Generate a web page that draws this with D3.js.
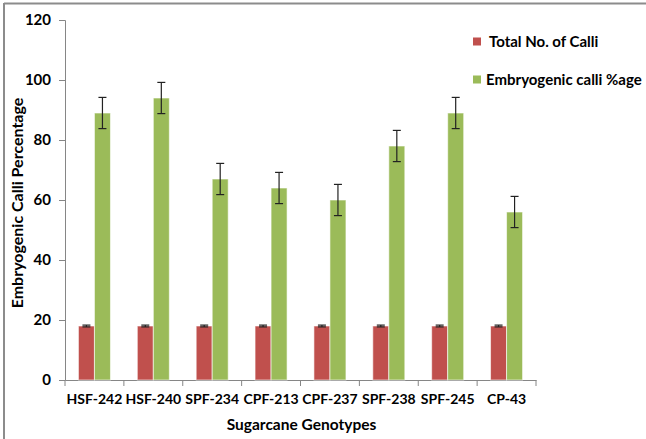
<!DOCTYPE html>
<html>
<head>
<meta charset="utf-8">
<script src="https://cdn.jsdelivr.net/npm/d3@7/dist/d3.min.js"></script>
<style>
  html, body { margin: 0; padding: 0; background: #fff; }
  svg { display: block; }
  text { font-family: Lato, "Open Sans", sans-serif; }
</style>
</head>
<body>
<svg id="chart" width="646" height="439"></svg>
<script>
const categories = ["HSF-242", "HSF-240", "SPF-234", "CPF-213", "CPF-237", "SPF-238", "SPF-245", "CP-43"];
const seriesNames = ["Total No. of Calli", "Embryogenic calli %age"];
const totalCalli = [18, 18, 18, 18, 18, 18, 18, 18];
const totalCalliErr = [0.3, 0.3, 0.3, 0.3, 0.3, 0.3, 0.3, 0.3];
const embryogenic = [89, 94, 67, 64, 60, 78, 89, 56];
const embryogenicErr = [5.2, 5.2, 5.2, 5.2, 5.2, 5.2, 5.2, 5.2];
const yTicks = [0, 20, 40, 60, 80, 100, 120];
const colors = ["#C0504D", "#9BBB59"];

const svg = d3.select("#chart");
const mLeft = 65, mRight = 536, mTop = 20, mBottom = 380;

// frame (top and left edges visible)
svg.append("line").attr("x1", 4).attr("x2", 646).attr("y1", 3.5).attr("y2", 3.5)
  .attr("stroke", "#8c8c8c").attr("stroke-width", 2);
svg.append("line").attr("x1", 4).attr("x2", 4).attr("y1", 3).attr("y2", 439)
  .attr("stroke", "#8c8c8c").attr("stroke-width", 2);

const x0 = d3.scaleBand().domain(categories).range([mLeft, mRight]).paddingInner(0).paddingOuter(0);
const bw = x0.bandwidth();
const x1 = d3.scaleBand().domain(seriesNames).range([bw * 0.228, bw * 0.772]).padding(0);
const y = d3.scaleLinear().domain([0, 120]).range([mBottom, mTop]);

// y axis
const yAxis = d3.axisLeft(y).tickValues(yTicks).tickSize(6).tickPadding(8).tickFormat(d3.format("d"));
const gy = svg.append("g").attr("transform", `translate(${mLeft},0)`).call(yAxis);
gy.select(".domain").attr("stroke", "#868686");
gy.selectAll(".tick line").attr("stroke", "#868686");
gy.selectAll(".tick text").attr("font-size", 15).attr("font-weight", "bold").attr("fill", "#000")
  .attr("font-family", "Lato, sans-serif");

// x axis
const xAxis = d3.axisBottom(x0).tickSize(0).tickPadding(14);
const gx = svg.append("g").attr("transform", `translate(0,${mBottom})`).call(xAxis);
gx.select(".domain").attr("stroke", "#868686");
gx.selectAll(".tick text").attr("font-size", 14).attr("font-weight", "bold").attr("fill", "#000")
  .attr("font-family", "Lato, sans-serif");
// category boundary ticks
const bounds = categories.map(c => x0(c)).concat([mRight]);
gx.selectAll(".bound").data(bounds).join("line").attr("class", "bound")
  .attr("x1", d => d).attr("x2", d => d).attr("y1", 0).attr("y2", 6).attr("stroke", "#868686");

// bars
const data = [totalCalli, embryogenic];
const errs = [totalCalliErr, embryogenicErr];
seriesNames.forEach((s, si) => {
  const g = svg.append("g");
  g.selectAll("rect").data(categories).join("rect")
    .attr("x", c => x0(c) + x1(s))
    .attr("y", (c, i) => y(data[si][i]))
    .attr("width", x1.bandwidth())
    .attr("height", (c, i) => y(0) - y(data[si][i]))
    .attr("fill", colors[si])
    .attr("stroke", "#ffffff").attr("stroke-opacity", 0.6).attr("stroke-width", 1);
});
// error bars
seriesNames.forEach((s, si) => {
  const g = svg.append("g").attr("stroke", "#222").attr("stroke-width", 1.2);
  categories.forEach((c, i) => {
    const cx = x0(c) + x1(s) + x1.bandwidth() / 2;
    const v = data[si][i], e = errs[si][i];
    const yt = y(v + e), yb = y(v - e);
    g.append("line").attr("x1", cx).attr("x2", cx).attr("y1", yt).attr("y2", yb);
    g.append("line").attr("x1", cx - 4).attr("x2", cx + 4).attr("y1", yt).attr("y2", yt);
    g.append("line").attr("x1", cx - 4).attr("x2", cx + 4).attr("y1", yb).attr("y2", yb);
  });
});

// axis titles
svg.append("text").attr("x", (mLeft + mRight) / 2 + 1).attr("y", 430).attr("text-anchor", "middle")
  .attr("font-size", 15.5).attr("font-weight", "bold").text("Sugarcane Genotypes");
svg.append("text").attr("transform", `translate(23,${(mTop + mBottom) / 2 + 3}) rotate(-90)`)
  .attr("text-anchor", "middle").attr("font-size", 16).attr("font-weight", "bold")
  .text("Embryogenic Calli Percentage");

// legend
const legY = [41.5, 79.5];
const legX = [489, 486];
seriesNames.forEach((s, i) => {
  svg.append("rect").attr("x", 473).attr("y", legY[i] - 4).attr("width", 8).attr("height", 8).attr("fill", colors[i]);
  svg.append("text").attr("x", legX[i]).attr("y", legY[i]).attr("dy", "0.35em")
    .attr("font-size", 15).attr("font-weight", "bold").text(s);
});
</script>
</body>
</html>
